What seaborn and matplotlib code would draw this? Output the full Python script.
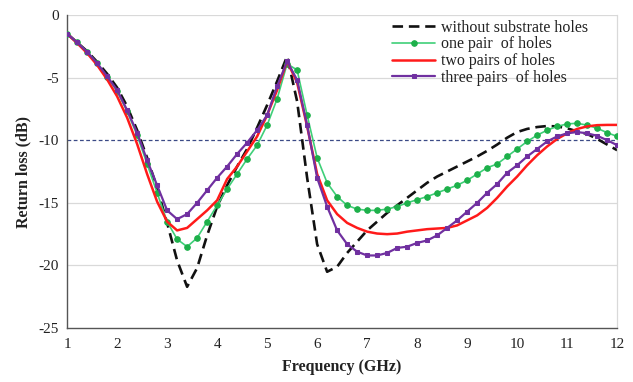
import numpy as np
import pandas as pd
import matplotlib
matplotlib.use("Agg")
import matplotlib.pyplot as plt
import seaborn as sns

freq = [round(1.0 + 0.2 * i, 1) for i in range(56)]

without_holes = [-1.5, -2.2, -2.9, -3.75, -4.7, -5.8, -7.3, -9.2, -11.4, -13.8,
                 -16.6, -19.6, -21.7, -20.2, -17.6, -15.3, -13.6, -12.1, -10.7, -9.0,
                 -7.2, -5.3, -3.3, -6.9, -13.0, -18.3, -20.5, -20.1, -19.0, -18.1,
                 -17.2, -16.5, -15.8, -15.2, -14.6, -14.0, -13.4, -12.9, -12.5, -12.1,
                 -11.7, -11.3, -10.85, -10.35, -9.8, -9.35, -9.1, -8.95, -8.87, -8.9,
                 -9.05, -9.3, -9.5, -9.9, -10.35, -10.8]

one_pair = [-1.5, -2.2, -2.95, -3.85, -4.95, -6.1, -7.7, -9.6, -11.9, -14.2,
            -16.5, -17.9, -18.5, -17.8, -16.5, -15.2, -13.9, -12.7, -11.5, -10.4,
            -8.8, -6.7, -3.9, -4.4, -8.0, -11.4, -13.4, -14.5, -15.2, -15.5,
            -15.6, -15.6, -15.5, -15.3, -15.0, -14.75, -14.5, -14.2, -13.9, -13.6,
            -13.2, -12.7, -12.2, -11.9, -11.3, -10.7, -10.1, -9.6, -9.2, -8.9,
            -8.7, -8.65, -8.8, -9.05, -9.4, -9.7]

two_pairs = [-1.5, -2.25, -3.05, -4.0, -5.15, -6.5, -8.2, -10.3, -12.7, -14.9,
             -16.5, -17.2, -17.0, -16.3, -15.6, -14.8, -13.1, -12.1, -10.9, -9.7,
             -8.0, -6.0, -3.7, -5.4, -8.9, -12.7, -14.8, -15.9, -16.6, -17.0,
             -17.3, -17.45, -17.5, -17.45, -17.3, -17.2, -17.1, -17.05, -17.0, -16.8,
             -16.4, -16.0, -15.4, -14.6, -13.7, -12.9, -12.0, -11.2, -10.5, -9.9,
             -9.45, -9.1, -8.9, -8.8, -8.78, -8.78]

three_pairs = [-1.5, -2.2, -2.95, -3.85, -4.9, -6.0, -7.6, -9.4, -11.6, -13.6,
               -15.6, -16.3, -15.9, -15.0, -14.0, -13.0, -12.1, -11.1, -10.2, -9.2,
               -8.0, -5.7, -3.7, -5.2, -8.8, -13.0, -15.3, -17.2, -18.3, -18.9,
               -19.2, -19.2, -19.0, -18.6, -18.5, -18.2, -18.0, -17.6, -17.0, -16.4,
               -15.7, -15.0, -14.2, -13.5, -12.6, -12.0, -11.3, -10.7, -10.1, -9.7,
               -9.45, -9.35, -9.45, -9.65, -10.0, -10.4]

labels = ["without substrate holes", "one pair  of holes", "two pairs of holes", "three pairs  of holes"]
x_ticks = list(range(1, 13))
y_ticks = [0, -5, -10, -15, -20, -25]
ref_level = -10

sns.set_theme(style="white")
plt.rcParams["font.family"] = ["Liberation Serif", "DejaVu Serif"]
plt.rcParams["axes.unicode_minus"] = False

fig = plt.figure(figsize=(6.33, 3.82), dpi=100)
ax = fig.add_axes([0.106, 0.141, 0.869, 0.820])

for yv in y_ticks:
    if yv not in (ref_level, -25):
        ax.axhline(yv, color="#d9d9d9", lw=0.9, zorder=0)
ax.axhline(ref_level, color="#3b4a86", lw=0.9, ls=(0, (3, 2)), zorder=1)

sns.lineplot(x=freq, y=without_holes, ax=ax, color="#111111", lw=1.9,
             linestyle=(0, (4, 2.2)), label=labels[0], zorder=2)
sns.lineplot(x=freq, y=one_pair, ax=ax, color="#3fcf78", lw=1.2, marker="o",
             markersize=4.0, markerfacecolor="#1db04a", markeredgecolor="#1db04a",
             label=labels[1], zorder=3)
sns.lineplot(x=freq, y=two_pairs, ax=ax, color="#ff1a1a", lw=1.8,
             label=labels[2], zorder=4)
sns.lineplot(x=freq, y=three_pairs, ax=ax, color="#7030a0", lw=1.6, marker="s",
             markersize=3.5, markerfacecolor="#7030a0", markeredgecolor="#7030a0",
             label=labels[3], zorder=5)

ax.set_xlim(1, 12)
ax.set_ylim(-25, 0)
ax.set_xticks(x_ticks)
ax.set_yticks(y_ticks)
ax.tick_params(axis="both", direction="in", length=4, width=0.9, color="#555555",
               labelsize=11, labelcolor="#222222", pad=6)
ax.tick_params(axis="x", pad=7)

for side in ("left", "bottom"):
    ax.spines[side].set_color("#555555")
    ax.spines[side].set_linewidth(1.0)
ax.spines["right"].set_color("#d9d9d9")
ax.spines["right"].set_linewidth(0.9)
ax.spines["top"].set_visible(False)

ax.set_xlabel("Frequency (GHz)", fontsize=11.5, fontweight="bold", color="#222222", labelpad=6)
ax.set_ylabel("Return loss (dB)", fontsize=11.5, fontweight="bold", color="#222222", labelpad=5)

leg = ax.legend(loc="upper left", bbox_to_anchor=(0.585, 0.995), frameon=False,
                fontsize=11.5, handlelength=2.7, handletextpad=0.35, labelspacing=0.05,
                borderpad=0.2, borderaxespad=0.0)
for t in leg.get_texts():
    t.set_color("#222222")

fig.savefig("out.png", dpi=100)
